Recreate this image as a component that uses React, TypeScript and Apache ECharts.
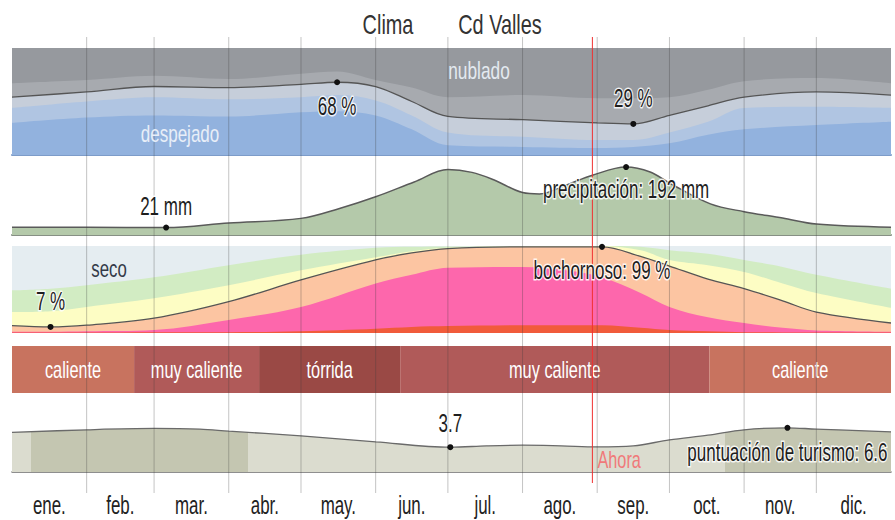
import React, { useEffect, useRef } from "react";
import * as echarts from "echarts";

// ---------- calendar ----------
const monthLabels = ["ene.", "feb.", "mar.", "abr.", "may.", "jun.", "jul.", "ago.", "sep.", "oct.", "nov.", "dic."];
const monthStartDays = [0, 31, 59, 90, 120, 151, 181, 212, 243, 273, 304, 334, 365];
const nowDay = 241;

// ---------- cloud cover (cumulative % of time, from the bottom) ----------
const cloudDays = [0, 31, 59, 90, 120, 135, 151, 166, 181, 212, 243, 258, 273, 289, 304, 334, 365];
const cloudMostlyCloudyTop = [67, 70, 74, 71, 76, 78, 70, 63, 54, 56, 53, 53, 54, 61, 69, 72, 67];
const cloudPartlyTop = [54, 59, 64, 63, 66, 68, 64, 50, 36, 33, 30, 29, 37, 46, 54, 59, 56];
const cloudMostlyClearTop = [44, 50, 54, 52, 54, 56, 51, 37, 21, 17, 14, 14, 21, 31, 44, 45, 44];
const cloudClearTop = [30, 35, 37, 36, 40, 41, 37, 24, 9, 7.5, 6.5, 7.5, 11, 19, 24, 28, 31];
const cloudMarkDays = [135, 258];
const cloudMarkValues = [68, 29];

// ---------- precipitation (mm, 31-day sum) ----------
const precipDays = [0, 31, 64, 90, 120, 136, 151, 167, 181, 191, 200, 212, 219, 230, 241, 255, 265, 273, 290, 304, 320, 334, 365];
const precipMm = [22, 22, 21, 34, 47, 75, 108, 150, 185, 177, 156, 120, 116, 141, 169, 192, 178, 147, 88, 66, 48, 31, 22];
const precipMarkDays = [64, 255];
const precipMarkValues = [21, 192];

// ---------- humidity comfort (cumulative % of time) ----------
const humDays = [0, 16, 31, 59, 90, 120, 151, 166, 181, 212, 230, 245, 261, 273, 289, 304, 320, 334, 365];
const humRedTop = [0.5, 0.5, 0.5, 1, 1, 2, 5, 7, 8, 9, 9, 9, 6, 3.5, 2, 1, 0.7, 0.5, 0.5];
const humPinkTop = [1.5, 1.5, 2, 3.5, 15, 30, 57, 67, 75, 76, 72, 64, 46, 30, 18, 11.5, 6, 3, 1.5];
const humMuggyTop = [8.4, 7, 9, 17, 36, 61, 84, 92, 97, 99, 99, 99, 88, 77, 62, 51, 37, 24, 11.5];
const humHumidTop = [24, 25, 30, 40, 55, 72, 87, 94, 98, 99.5, 99.7, 99.7, 95, 84, 78, 70, 57, 46, 29];
const humComfortTop = [49, 51, 55, 64, 78, 90, 98, 99, 99.3, 99.8, 99.9, 99.9, 99, 95, 91, 84, 76, 67, 51];
const humMarkDays = [16, 245];
const humMarkValues = [7, 99];

// ---------- temperature categories ----------
const tempBandStart = [0, 50.7, 102.6, 161.2, 289.6];
const tempBandEnd = [50.7, 102.6, 161.2, 289.6, 365];
const tempBandLabels = ["caliente", "muy caliente", "tórrida", "muy caliente", "caliente"];

// ---------- tourism score ----------
const tourDays = [0, 31, 59, 78, 90, 120, 151, 182, 197, 212, 228, 243, 258, 273, 289, 304, 322, 334, 365];
const tourScore = [5.9, 6.3, 6.5, 6.4, 6.1, 5.4, 4.5, 3.7, 3.9, 4.0, 3.9, 3.75, 3.9, 4.8, 5.5, 6.3, 6.6, 6.4, 6.0];
const tourBestPeriods = [[8, 98], [296, 365]];
const tourMarkDays = [182, 322];
const tourMarkValues = [3.7, 6.6];

// ---------- styles ----------
const FONT = "'Liberation Sans', Arial, sans-serif";
const SX = 0.68;
const SX_MONTH = 0.65;
const SX_TITLE = 0.71;
const tempColors: Record<string, string> = {
  caliente: "#c8735f",
  "muy caliente": "#b05a59",
  "tórrida": "#9a4945",
};

const pairs = (xs: number[], ys: number[]) => xs.map((x, i) => [x, ys[i]]);

export default function App() {
  const ref = useRef<HTMLDivElement>(null);

  useEffect(() => {
    document.body.style.margin = "0";
    if (!ref.current) return;
    const chart = echarts.init(ref.current, undefined, { renderer: "svg" });

    const gridBase = { left: 12, right: 4 };
    const grids = [
      { ...gridBase, top: 48, height: 107, show: true, backgroundColor: "#96999e", borderWidth: 0 },
      { ...gridBase, top: 160, height: 75 },
      { ...gridBase, top: 246, height: 87, show: true, backgroundColor: "#e5edf1", borderWidth: 0 },
      { ...gridBase, top: 346, height: 47 },
      { ...gridBase, top: 405, height: 67 },
      { ...gridBase, top: 37, height: 456 },
    ];
    const yRanges = [
      [0, 100],
      [0, 212],
      [0, 100],
      [0, 1],
      [0, 10],
      [0, 1],
    ];
    const axisLines: any[] = [
      { show: true, lineStyle: { color: "#7d9cc9", width: 2 } },
      { show: true, lineStyle: { color: "#868f84", width: 2 } },
      { show: false },
      { show: false },
      { show: true, lineStyle: { color: "#6a6a6a", width: 1.5 } },
      { show: false },
    ];
    const xAxis = grids.map((_, i) => ({
      gridIndex: i,
      type: "value",
      min: 0,
      max: 365,
      axisLabel: { show: false },
      axisTick: { show: false },
      splitLine: { show: false },
      axisLine: axisLines[i],
    }));
    const yAxis = grids.map((_, i) => ({
      gridIndex: i,
      type: "value",
      min: yRanges[i][0],
      max: yRanges[i][1],
      show: false,
    }));

    const area = (gi: number, xs: number[], ys: number[], color: string, line?: any, name?: string) => ({
      type: "line",
      name,
      xAxisIndex: gi,
      yAxisIndex: gi,
      data: pairs(xs, ys),
      smooth: 0.35,
      symbol: "none",
      lineStyle: line || { width: 0 },
      areaStyle: { color, opacity: 1 },
      z: 2,
    });

    const darkLine = { color: "#555", width: 1.3 };

    const textStyle = (text: string, size: number, fill: string, extra: any = {}) => ({
      text,
      fill,
      fontSize: size,
      fontFamily: FONT,
      align: "center",
      verticalAlign: "middle",
      ...extra,
    });

    const markSeries = (gi: number, days: number[], values: number[], texts: string[], place: number[]) => ({
      type: "custom",
      xAxisIndex: gi,
      yAxisIndex: gi,
      z: 30,
      data: pairs(days, values),
      renderItem: (params: any, api: any) => {
        const p = api.coord([api.value(0), api.value(1)]);
        const i = params.dataIndex;
        return {
          type: "group",
          children: [
            { type: "circle", shape: { cx: p[0], cy: p[1], r: 3 }, style: { fill: "#111" } },
            {
              type: "text",
              x: p[0],
              y: p[1] + place[i],
              scaleX: SX,
              style: textStyle(texts[i], 25, "#1e1e1e", { stroke: "rgba(255,255,255,0.85)", lineWidth: 3 }),
            },
          ],
        };
      },
    });

    const series: any[] = [
      // cloud cover
      area(0, cloudDays, cloudMostlyCloudyTop, "#a7aaaf", undefined, "mayormente nublado"),
      area(0, cloudDays, cloudPartlyTop, "#c6ceda", darkLine, "parcialmente nublado"),
      area(0, cloudDays, cloudMostlyClearTop, "#b0c5e2", undefined, "mayormente despejado"),
      area(0, cloudDays, cloudClearTop, "#92b2de", undefined, "despejado"),
      // precipitation
      area(1, precipDays, precipMm, "#b4c9aa", { color: "#5a5a5a", width: 1.5 }, "precipitación"),
      // humidity
      area(2, humDays, humComfortTop, "#d2ecc3", undefined, "cómodo"),
      area(2, humDays, humHumidTop, "#fdfdc4", undefined, "húmedo"),
      area(2, humDays, humMuggyTop, "#fcc5a2", darkLine, "bochornoso"),
      area(2, humDays, humPinkTop, "#fd67ac", undefined, "opresivo"),
      area(2, humDays, humRedTop, "#f15b3b", undefined, "insoportable"),
    ];

    // tourism area colored by best periods
    const tourAreaIndex = series.length;
    series.push({
      type: "line",
      name: "turismo",
      xAxisIndex: 4,
      yAxisIndex: 4,
      data: pairs(tourDays, tourScore),
      smooth: 0.35,
      symbol: "none",
      lineStyle: { width: 0 },
      areaStyle: { opacity: 1 },
      z: 2,
    });
    series.push({
      type: "line",
      name: "puntuación",
      xAxisIndex: 4,
      yAxisIndex: 4,
      data: pairs(tourDays, tourScore),
      smooth: 0.35,
      symbol: "none",
      lineStyle: { color: "#6a6a6a", width: 1.3 },
      z: 3,
    });

    // temperature bands
    series.push({
      type: "custom",
      xAxisIndex: 3,
      yAxisIndex: 3,
      z: 5,
      data: tempBandStart.map((s, i) => [s, tempBandEnd[i]]),
      renderItem: (params: any, api: any) => {
        const a = api.coord([api.value(0), 1]);
        const b = api.coord([api.value(1), 0]);
        const label = tempBandLabels[params.dataIndex];
        return {
          type: "group",
          children: [
            {
              type: "rect",
              shape: { x: a[0], y: a[1], width: b[0] - a[0], height: b[1] - a[1] },
              style: { fill: tempColors[label] },
            },
            {
              type: "text",
              x: (a[0] + b[0]) / 2,
              y: (a[1] + b[1]) / 2,
              scaleX: SX,
              style: textStyle(label, 24, "#ffffff"),
            },
          ],
        };
      },
    });

    // month grid lines
    series.push({
      type: "custom",
      xAxisIndex: 5,
      yAxisIndex: 5,
      z: 20,
      silent: true,
      data: monthStartDays.slice(1, -1).map((d) => [d, 0]),
      renderItem: (_p: any, api: any) => {
        const t = api.coord([api.value(0), 1]);
        const b = api.coord([api.value(0), 0]);
        return {
          type: "line",
          shape: { x1: t[0], y1: t[1], x2: b[0], y2: b[1] },
          style: { stroke: "rgba(60,60,60,0.3)", lineWidth: 1 },
        };
      },
    });

    // month labels
    series.push({
      type: "custom",
      xAxisIndex: 5,
      yAxisIndex: 5,
      z: 20,
      data: monthLabels.map((_, i) => [(monthStartDays[i] + monthStartDays[i + 1]) / 2, 0]),
      renderItem: (params: any, api: any) => {
        const p = api.coord([api.value(0), 0]);
        return {
          type: "text",
          x: p[0],
          y: p[1] + 12,
          scaleX: SX_MONTH,
          style: textStyle(monthLabels[params.dataIndex], 26, "#222"),
        };
      },
    });

    // now line
    series.push({
      type: "custom",
      xAxisIndex: 5,
      yAxisIndex: 5,
      z: 25,
      data: [[nowDay, 0]],
      renderItem: (_p: any, api: any) => {
        const t = api.coord([api.value(0), 1]);
        const b = api.coord([api.value(0), 0]);
        return {
          type: "group",
          children: [
            {
              type: "line",
              shape: { x1: t[0], y1: t[1], x2: b[0], y2: b[1] - 10 },
              style: { stroke: "#f03030", lineWidth: 1 },
            },
            {
              type: "text",
              x: b[0] + 5,
              y: b[1] - 34,
              scaleX: SX,
              style: textStyle("Ahora", 24, "#f07a7a", { align: "left" }),
            },
          ],
        };
      },
    });

    // annotations
    series.push(markSeries(0, cloudMarkDays, cloudMarkValues, cloudMarkValues.map((v) => `${v} %`), [25, -25]));
    series.push(markSeries(1, precipMarkDays, precipMarkValues, [`${precipMarkValues[0]} mm`, `precipitación: ${precipMarkValues[1]} mm`], [-21, 23]));
    series.push(markSeries(2, humMarkDays, humMarkValues, [`${humMarkValues[0]} %`, `bochornoso: ${humMarkValues[1]} %`], [-25, 24]));
    series.push(markSeries(4, tourMarkDays, tourMarkValues, [`${tourMarkValues[0]}`, `puntuación de turismo: ${tourMarkValues[1]}`], [-23, 25]));

    const light = "#dbdccf";
    const dark = "#c4c6b1";
    const pieces: any[] = [];
    let prev = -1;
    tourBestPeriods.forEach(([s, e]) => {
      if (s > prev) pieces.push({ gte: prev, lt: s, color: light });
      pieces.push({ gte: s, lt: e, color: dark });
      prev = e;
    });
    pieces[pieces.length - 1].lt = 366;

    chart.setOption({
      animation: false,
      grid: grids,
      xAxis,
      yAxis,
      series,
      visualMap: [
        {
          type: "piecewise",
          show: false,
          dimension: 0,
          seriesIndex: tourAreaIndex,
          pieces,
        },
      ],
      graphic: [
        { type: "text", x: 388, y: 24, scaleX: SX_TITLE, style: textStyle("Clima", 28, "#333") },
        { type: "text", x: 500, y: 24, scaleX: SX_TITLE, style: textStyle("Cd Valles", 28, "#333") },
        { type: "text", x: 479, y: 70, scaleX: 0.72, z: 40, style: textStyle("nublado", 24, "#e4eaf0") },
        { type: "text", x: 180, y: 133, scaleX: 0.71, z: 40, style: textStyle("despejado", 24, "#e8eef8") },
        { type: "text", x: 109, y: 268, scaleX: 0.7, z: 40, style: textStyle("seco", 24, "#333a48") },
      ],
    });

    return () => chart.dispose();
  }, []);

  return <div ref={ref} style={{ width: 895, height: 520 }} />;
}
